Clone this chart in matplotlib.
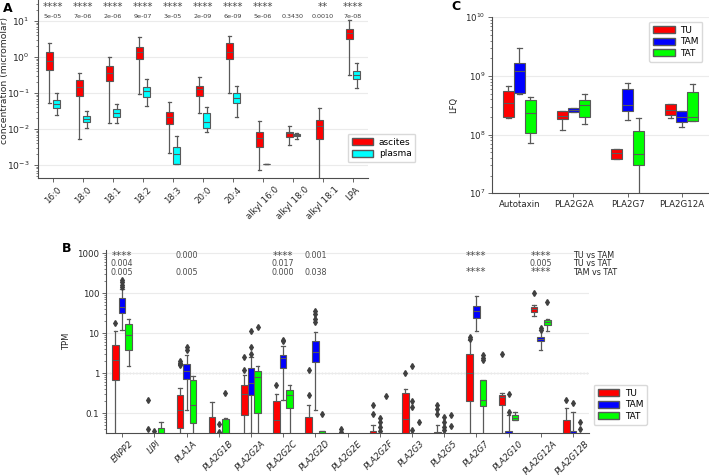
import numpy as np
import matplotlib.pyplot as plt
from matplotlib.patches import Patch
import matplotlib.transforms as mtransforms
from matplotlib.ticker import NullFormatter, FixedLocator, FixedFormatter

# ---------------- panel A: lipid concentrations ----------------
a_cats = ['16:0', '18:0', '18:1', '18:2', '18:3', '20:0', '20:4',
          'alkyl 16:0', 'alkyl 18:0', 'alkyl 18:1', 'LPA']
a_stars = ['****', '****', '****', '****', '****', '****', '****', '****', '', '**', '****']
a_pvals = ['5e-05', '7e-06', '2e-06', '9e-07', '3e-05', '2e-09', '6e-09', '5e-06',
           '0.3430', '0.0010', '7e-08']
# whislo, q1, med, q3, whishi
asc_lo = [0.054, 0.0053, 0.0144, 0.094, 0.0022, 0.0274, 0.102, 0.00073, 0.0036, 0.0001, 0.316]
asc_q1 = [0.44, 0.084, 0.21, 0.88, 0.0138, 0.084, 0.86, 0.0031, 0.0061, 0.0053, 3.1]
asc_med = [0.77, 0.15, 0.37, 1.4, 0.022, 0.126, 1.4, 0.0055, 0.0076, 0.0123, 4.5]
asc_q3 = [1.35, 0.23, 0.56, 1.93, 0.030, 0.156, 2.4, 0.0084, 0.0085, 0.0178, 5.9]
asc_hi = [2.4, 0.35, 1.02, 3.5, 0.057, 0.27, 3.8, 0.0167, 0.012, 0.0376, 10.6]
pla_lo = [0.0245, 0.0105, 0.0144, 0.043, 0.00105, 0.0081, 0.022, 0.00107, 0.0052, np.nan, 0.135]
pla_q1 = [0.0376, 0.0154, 0.022, 0.076, 0.00105, 0.0105, 0.052, 0.00107, 0.0064, np.nan, 0.24]
pla_med = [0.049, 0.019, 0.028, 0.115, 0.0020, 0.016, 0.071, 0.00107, 0.0068, np.nan, 0.316]
pla_q3 = [0.064, 0.0234, 0.036, 0.144, 0.0031, 0.0273, 0.098, 0.00107, 0.0073, np.nan, 0.42]
pla_hi = [0.10, 0.0316, 0.049, 0.24, 0.0064, 0.040, 0.156, 0.00107, 0.0079, np.nan, 0.67]

# ---------------- panel B: TPM per gene ----------------
b_genes = ['ENPP2', 'LIPI', 'PLA1A', 'PLA2G1B', 'PLA2G2A', 'PLA2G2C', 'PLA2G2D', 'PLA2G2E',
           'PLA2G2F', 'PLA2G3', 'PLA2G5', 'PLA2G7', 'PLA2G10', 'PLA2G12A', 'PLA2G12B']
Z = 0.001  # zero TPM, falls below the axis
tu_lo = [Z, Z, Z, Z, Z, Z, Z, Z, Z, Z, Z, Z, Z, 27, Z]
tu_q1 = [0.66, Z, 0.043, Z, 0.091, Z, Z, Z, Z, Z, Z, 0.196, 0.155, 33.5, Z]
tu_med = [2.07, Z, 0.117, Z, 0.3, 0.068, Z, Z, Z, 0.072, Z, 1.0, 0.25, 40.5, Z]
tu_q3 = [5.2, Z, 0.277, 0.079, 0.51, 0.196, 0.079, Z, 0.035, 0.316, 0.033, 3.04, 0.29, 46, 0.066]
tu_hi = [11.2, Z, 0.43, 0.19, 0.9, 0.30, 0.16, Z, 0.049, 0.41, 0.051, 6.6, 0.316, 51, 0.136]
tu_fl = [[17.8], [0.207, 0.039], [1.6, 1.7, 1.8, 2.0], [], [1.17, 2.6], [0.51], [0.277, 1.17],
         [0.04, 0.034], [0.096, 0.155], [1.0], [0.096, 0.128, 0.16], [7.2, 7.9], [3.04], [102], [0.215]]
tam_lo = [11.7, Z, 0.12, Z, 0.032, 0.215, 0.12, Z, Z, Z, Z, 11.2, Z, 3.9, Z]
tam_q1 = [32, Z, 0.72, Z, 0.29, 1.36, 1.88, Z, Z, Z, Z, 24, Z, 6.3, Z]
tam_med = [44.7, Z, 1.1, Z, 0.56, 2.4, 3.35, Z, Z, Z, Z, 35.5, Z, 7.2, Z]
tam_q3 = [75, Z, 1.71, Z, 1.33, 2.87, 6.3, Z, Z, Z, Z, 49, 0.036, 8.25, 0.036]
tam_hi = [128, Z, 2.77, Z, 2.5, 4.9, 11, Z, Z, Z, Z, 84, 0.087, 11.7, 0.106]
tam_fl = [[141, 165, 188, 215], [0.036], [3.69, 4.47], [0.033, 0.052], [3.0, 4.47, 11.2], [6.3, 6.9],
          [18.8, 22.8, 30, 36.9], [], [0.0355, 0.045, 0.06, 0.075], [0.037, 0.141, 0.196, 1.55],
          [0.037, 0.045, 0.06, 0.08], [], [0.106, 0.30], [12.1, 13.6], [0.178]]
tat_lo = [1.47, Z, Z, Z, Z, Z, Z, Z, Z, Z, Z, Z, 0.066, 11.2, Z]
tat_q1 = [3.7, Z, 0.056, Z, 0.1, 0.133, Z, Z, Z, Z, Z, 0.15, 0.068, 16.2, Z]
tat_med = [9.1, Z, 0.155, Z, 0.79, 0.277, Z, Z, Z, Z, Z, 0.21, 0.077, 18.8, Z]
tat_q3 = [17.1, 0.042, 0.66, 0.072, 1.1, 0.37, 0.035, Z, Z, Z, Z, 0.68, 0.087, 21.5, Z]
tat_hi = [22.4, 0.06, 0.83, 0.075, 1.47, 0.51, 0.035, Z, Z, Z, Z, 0.68, 0.106, 22.8, Z]
tat_fl = [[], [], [], [0.32], [14.1], [], [0.096], [], [0.266], [0.06], [0.047, 0.087],
          [2.07, 2.4, 2.77], [], [59.6], [0.039, 0.06]]
b_sig_genes = ['ENPP2', 'PLA1A', 'PLA2G2C', 'PLA2G2D', 'PLA2G7', 'PLA2G12A']
b_sig_tu_tam = ['****', '0.000', '****', '0.001', '****', '****']
b_sig_tu_tat = ['0.004', '', '0.017', '', '', '0.005']
b_sig_tam_tat = ['0.005', '0.005', '0.000', '0.038', '****', '****']
b_sig_names = ['TU vs TAM', 'TU vs TAT', 'TAM vs TAT']

# ---------------- panel C: LFQ proteomics ----------------
c_prots = ['Autotaxin', 'PLA2G2A', 'PLA2G7', 'PLA2G12A']
c_tu_lo = [1.9e8, 1.2e8, 3.9e7, 1.9e8]
c_tu_q1 = [1.97e8, 1.85e8, 3.9e7, 2.2e8]
c_tu_med = [3.4e8, 2.1e8, 4.8e7, 2.6e8]
c_tu_q3 = [5.6e8, 2.5e8, 5.8e7, 3.3e8]
c_tu_hi = [6.7e8, 2.5e8, 5.8e7, 3.3e8]
c_tam_lo = [5.0e8, 2.45e8, 1.77e8, 1.36e8]
c_tam_q1 = [5.06e8, 2.45e8, 2.5e8, 1.62e8]
c_tam_med = [1.21e9, 2.6e8, 3.2e8, 1.97e8]
c_tam_q3 = [1.64e9, 2.8e8, 5.9e8, 2.5e8]
c_tam_hi = [3.0e9, 2.9e8, 7.7e8, 2.5e8]
c_tat_lo = [7.1e7, 1.5e8, 5e6, 1.73e8]
c_tat_q1 = [1.05e8, 1.97e8, 3.0e7, 1.73e8]
c_tat_med = [2.3e8, 3.2e8, 4.6e7, 2.0e8]
c_tat_q3 = [3.9e8, 3.9e8, 1.16e8, 5.25e8]
c_tat_hi = [4.4e8, 4.9e8, 1.9e8, 7.2e8]

RED, CYAN, BLUE, GREEN = '#ff0000', '#00ffff', '#0000ff', '#00ff00'
EDGE = '0.35'
TXT = '0.15'
FS = 6.2


def make_stats(lo, q1, med, q3, hi, fl=None):
    stats = []
    for i in range(len(med)):
        stats.append(dict(whislo=lo[i], q1=q1[i], med=med[i], q3=q3[i], whishi=hi[i],
                          fliers=(fl[i] if fl is not None else [])))
    return stats


def draw_boxes(ax, stats, pos, width, color):
    keep = [(s, p) for s, p in zip(stats, pos) if not np.isnan(s['med'])]
    ax.bxp([k[0] for k in keep], positions=[k[1] for k in keep], widths=width,
           patch_artist=True, manage_ticks=False,
           boxprops=dict(facecolor=color, edgecolor=EDGE, linewidth=0.8),
           whiskerprops=dict(color=EDGE, linewidth=0.9),
           capprops=dict(color=EDGE, linewidth=0.9),
           medianprops=dict(color=EDGE, linewidth=0.8),
           flierprops=dict(marker='d', markerfacecolor='0.25', markeredgecolor='0.25',
                           markersize=3.0, linestyle='none'))


def style_ax(ax):
    for s in ['top', 'right']:
        ax.spines[s].set_visible(False)
    for s in ['left', 'bottom']:
        ax.spines[s].set_color('0.3')
        ax.spines[s].set_linewidth(0.8)
    ax.yaxis.grid(True, which='major', color='0.92', linewidth=0.8)
    ax.set_axisbelow(True)
    ax.tick_params(colors='0.3', labelcolor=TXT, labelsize=FS, length=3, width=0.6, pad=2)
    ax.tick_params(which='minor', length=1.5, width=0.5, colors='0.3')


def legend_kw():
    return dict(fontsize=6.5, handlelength=2.4, handleheight=0.8, borderpad=0.45,
                labelspacing=0.3, handletextpad=0.6, framealpha=1, edgecolor='0.85', fancybox=True)


fig = plt.figure(figsize=(7.09, 4.75), dpi=100)

# ---- A ----
axA = fig.add_axes([38/709, 1 - 178/475, 330/709, 178/475])
xa = np.arange(len(a_cats))
draw_boxes(axA, make_stats(asc_lo, asc_q1, asc_med, asc_q3, asc_hi), xa - 0.125, 0.23, RED)
draw_boxes(axA, make_stats(pla_lo, pla_q1, pla_med, pla_q3, pla_hi), xa + 0.125, 0.23, CYAN)
axA.set_yscale('log')
axA.set_ylim(4.35e-4, 38.3)
axA.set_xlim(-0.5, len(a_cats) - 0.5)
style_ax(axA)
axA.set_yticks([1e-3, 1e-2, 1e-1, 1e0, 1e1])
axA.set_xticks(xa)
axA.set_xticklabels(a_cats, rotation=45, ha='center', fontsize=FS)
axA.tick_params(axis='y', labelsize=6.6, pad=3)
axA.set_ylabel('concentration (micromolar)', fontsize=6.7, color=TXT)
axA.yaxis.set_label_coords(-29/330, 0.545)
trA = mtransforms.blended_transform_factory(axA.transData, axA.transAxes)
for i in range(len(a_cats)):
    axA.text(i, 1 - 7/178, a_stars[i], transform=trA, ha='center', va='center', fontsize=7.3, color='0.3')
    axA.text(i, 1 - 16/178, a_pvals[i], transform=trA, ha='center', va='center', fontsize=4.6, color='0.25')
fig.legend(handles=[Patch(facecolor=RED, edgecolor=EDGE, label='ascites'),
                    Patch(facecolor=CYAN, edgecolor=EDGE, label='plasma')],
           loc='upper left', bbox_to_anchor=(343/709, 1 - 129/475), **legend_kw())

# ---- B ----
axB = fig.add_axes([106/709, 1 - 433.3/475, 483/709, 183.3/475])
xb = np.arange(len(b_genes))
draw_boxes(axB, make_stats(tu_lo, tu_q1, tu_med, tu_q3, tu_hi, tu_fl), xb - 0.205, 0.2, RED)
draw_boxes(axB, make_stats(tam_lo, tam_q1, tam_med, tam_q3, tam_hi, tam_fl), xb, 0.2, BLUE)
draw_boxes(axB, make_stats(tat_lo, tat_q1, tat_med, tat_q3, tat_hi, tat_fl), xb + 0.205, 0.2, GREEN)
axB.set_yscale('log')
axB.set_ylim(0.0311, 1210)
axB.set_xlim(-0.5, len(b_genes) - 0.5)
style_ax(axB)
axB.axhline(1, color='0.6', linestyle=':', linewidth=0.9, zorder=0.5)
axB.yaxis.set_major_locator(FixedLocator([0.1, 1, 10, 100, 1000]))
axB.yaxis.set_major_formatter(FixedFormatter(['0.1', '1', '10', '100', '1000']))
axB.yaxis.set_minor_formatter(NullFormatter())
axB.set_xticks(xb)
axB.set_xticklabels(b_genes, rotation=45, ha='center', fontsize=6.0, style='italic')
axB.tick_params(axis='x', pad=1)
axB.set_ylabel('TPM', fontsize=6, color=TXT, labelpad=4)
rows_y = [870, 540, 335]
for g, r1, r2, r3 in zip(b_sig_genes, b_sig_tu_tam, b_sig_tu_tat, b_sig_tam_tat):
    i = b_genes.index(g)
    for y, t in zip(rows_y, [r1, r2, r3]):
        fs = 7.3 if '*' in t else 5.8
        axB.text(i, y, t, ha='center', va='center', fontsize=fs, color='0.3')
for y, t in zip(rows_y, b_sig_names):
    axB.text(len(b_genes) - 1, y, t, ha='left', va='center', fontsize=5.8, color=TXT)
fig.legend(handles=[Patch(facecolor=RED, edgecolor=EDGE, label='TU'),
                    Patch(facecolor=BLUE, edgecolor=EDGE, label='TAM'),
                    Patch(facecolor=GREEN, edgecolor=EDGE, label='TAT')],
           loc='upper left', bbox_to_anchor=(589/709, 1 - 380/475), **legend_kw())

# ---- C ----
axC = fig.add_axes([492.3/709, 1 - 193.3/475, 216.4/709, 176/475])
xc = np.arange(len(c_prots))
draw_boxes(axC, make_stats(c_tu_lo, c_tu_q1, c_tu_med, c_tu_q3, c_tu_hi), xc - 0.205, 0.2, RED)
draw_boxes(axC, make_stats(c_tam_lo, c_tam_q1, c_tam_med, c_tam_q3, c_tam_hi), xc, 0.2, BLUE)
draw_boxes(axC, make_stats(c_tat_lo, c_tat_q1, c_tat_med, c_tat_q3, c_tat_hi), xc + 0.205, 0.2, GREEN)
axC.set_yscale('log')
axC.set_ylim(1e7, 1e10)
axC.set_xlim(-0.5, len(c_prots) - 0.5)
style_ax(axC)
axC.set_yticks([1e7, 1e8, 1e9, 1e10])
axC.set_xticks(xc)
axC.set_xticklabels(c_prots, fontsize=FS)
axC.set_ylabel('LFQ', fontsize=6, color=TXT, labelpad=5)
fig.legend(handles=[Patch(facecolor=RED, edgecolor=EDGE, label='TU'),
                    Patch(facecolor=BLUE, edgecolor=EDGE, label='TAM'),
                    Patch(facecolor=GREEN, edgecolor=EDGE, label='TAT')],
           loc='upper right', bbox_to_anchor=(707/709, 1 - 17/475), **legend_kw())

# panel letters
fig.text(3/709, 1 - 8/475, 'A', fontsize=9, fontweight='bold', va='center', ha='left')
fig.text(62/709, 1 - 248/475, 'B', fontsize=9, fontweight='bold', va='center', ha='left')
fig.text(451/709, 1 - 6/475, 'C', fontsize=9, fontweight='bold', va='center', ha='left')

fig.savefig('out.png', dpi=100)
